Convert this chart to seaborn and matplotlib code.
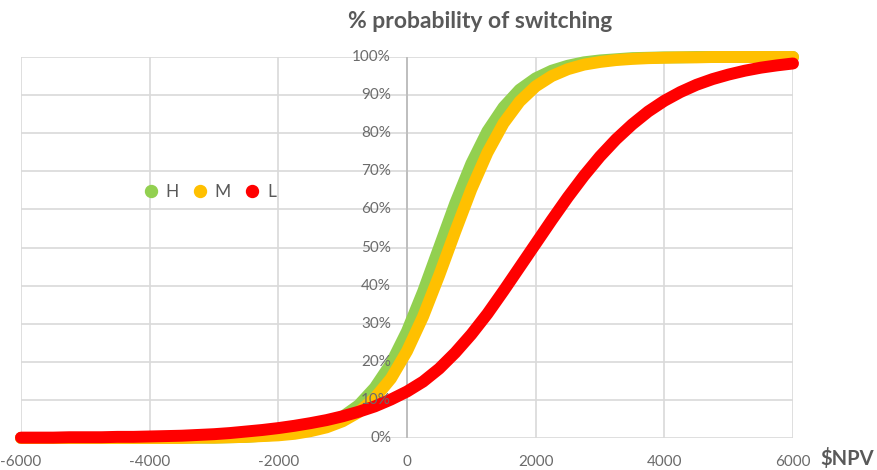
import matplotlib
matplotlib.use("Agg")
import matplotlib.pyplot as plt
import pandas as pd
import seaborn as sns
from matplotlib.lines import Line2D

# NPV grid ($), sampled every 250
npv = [-6000, -5750, -5500, -5250, -5000, -4750, -4500, -4250, -4000, -3750,
       -3500, -3250, -3000, -2750, -2500, -2250, -2000, -1750, -1500, -1250,
       -1000, -750, -500, -250, 0, 250, 500, 750, 1000, 1250,
       1500, 1750, 2000, 2250, 2500, 2750, 3000, 3250, 3500, 3750,
       4000, 4250, 4500, 4750, 5000, 5250, 5500, 5750, 6000]

# probability of switching per segment
high = [0.000, 0.000, 0.000, 0.000, 0.000, 0.000, 0.000, 0.000, 0.000, 0.000,
        0.001, 0.001, 0.001, 0.002, 0.003, 0.006, 0.009, 0.014, 0.023, 0.036,
        0.056, 0.086, 0.132, 0.195, 0.280, 0.384, 0.500, 0.616, 0.720, 0.805,
        0.868, 0.914, 0.944, 0.964, 0.977, 0.986, 0.991, 0.994, 0.997, 0.998,
        0.999, 0.999, 1.000, 1.000, 1.000, 1.000, 1.000, 1.000, 1.000]
medium = [0.000, 0.000, 0.000, 0.000, 0.000, 0.000, 0.000, 0.000, 0.000, 0.000,
          0.000, 0.001, 0.001, 0.002, 0.003, 0.005, 0.007, 0.011, 0.018, 0.028,
          0.044, 0.068, 0.105, 0.156, 0.228, 0.319, 0.427, 0.542, 0.653, 0.749,
          0.826, 0.883, 0.923, 0.950, 0.968, 0.980, 0.987, 0.992, 0.995, 0.997,
          0.998, 0.999, 0.999, 1.000, 1.000, 1.000, 1.000, 1.000, 1.000]
low = [0.001, 0.001, 0.001, 0.002, 0.002, 0.002, 0.003, 0.003, 0.004, 0.005,
       0.006, 0.008, 0.010, 0.013, 0.017, 0.021, 0.026, 0.032, 0.039, 0.047,
       0.057, 0.069, 0.083, 0.101, 0.122, 0.148, 0.182, 0.224, 0.272, 0.326,
       0.386, 0.448, 0.510, 0.572, 0.632, 0.688, 0.739, 0.784, 0.823, 0.857,
       0.885, 0.908, 0.927, 0.942, 0.954, 0.964, 0.972, 0.978, 0.983]

segments = ["H", "M", "L"]
colors = ["#92D050", "#FFC000", "#FF0000"]

x_ticks = [-6000, -4000, -2000, 0, 2000, 4000, 6000]
x_tick_labels = ["-6000", "-4000", "-2000", "0", "2000", "4000", "6000"]
y_ticks = [0.0, 0.1, 0.2, 0.3, 0.4, 0.5, 0.6, 0.7, 0.8, 0.9, 1.0]
y_tick_labels = ["0%", "10%", "20%", "30%", "40%", "50%", "60%", "70%", "80%", "90%", "100%"]

title = "% probability of switching"
x_title = "$NPV"

sns.set_style("white")
plt.rcParams["font.family"] = ["Lato", "DejaVu Sans"]

text_grey = "#595959"
label_grey = "#6b6b6b"
grid_grey = "#d9d9d9"

df = pd.concat(
    [pd.DataFrame({"npv": npv, "prob": vals, "segment": seg})
     for seg, vals in zip(segments, [high, medium, low])],
    ignore_index=True,
)

fig = plt.figure(figsize=(8.77, 4.70), dpi=100)
ax = fig.add_axes([21 / 877, 32 / 470, 772 / 877, 381 / 470])

sns.lineplot(data=df, x="npv", y="prob", hue="segment", hue_order=segments,
             palette=colors, linewidth=8.6, errorbar=None, legend=False, ax=ax)
for line in ax.lines:
    line.set_solid_capstyle("round")
    line.set_solid_joinstyle("round")
    line.set_clip_on(False)

ax.set_xlim(-6000, 6000)
ax.set_ylim(0, 1)
ax.set_axisbelow(True)
ax.set_xticks(x_ticks)
ax.set_xticklabels(x_tick_labels)
ax.set_yticks(y_ticks)
ax.set_yticklabels([])
ax.grid(True, color=grid_grey, linewidth=1.2)
ax.axvline(0, color="#bfbfbf", linewidth=1.4, zorder=1)
for s in ax.spines.values():
    s.set_visible(False)
ax.tick_params(axis="both", length=0)
ax.tick_params(axis="x", pad=12, labelsize=11, labelcolor=label_grey)
ax.set_xlabel("")
ax.set_ylabel("")

# percentage labels sit just left of the zero line, above the curves
for v, lab in zip(y_ticks, y_tick_labels):
    ax.annotate(lab, xy=(0, v), xytext=(-11.5, 0), textcoords="offset points",
                ha="right", va="center", fontsize=11, color=label_grey,
                zorder=6, annotation_clip=False)

handles = [Line2D([], [], marker="o", linestyle="", color=c, markersize=8.6)
           for c in colors]
ax.legend(handles, segments, ncol=3, frameon=False, loc="center",
          bbox_to_anchor=(210 / 877, 1 - 192 / 470), bbox_transform=fig.transFigure,
          handlelength=0.8, handletextpad=0.44, columnspacing=0.83,
          borderaxespad=0, borderpad=0, prop={"size": 12.5}, labelcolor=text_grey)

fig.text(480 / 877, 1 - 21 / 470, title, ha="center", va="center",
         fontsize=16.5, fontweight="bold", color=text_grey)
fig.text(874 / 877, 1 - 458 / 470, x_title, ha="right", va="center",
         fontsize=14.5, fontweight="bold", color=text_grey)

fig.savefig("out.png", dpi=100)
